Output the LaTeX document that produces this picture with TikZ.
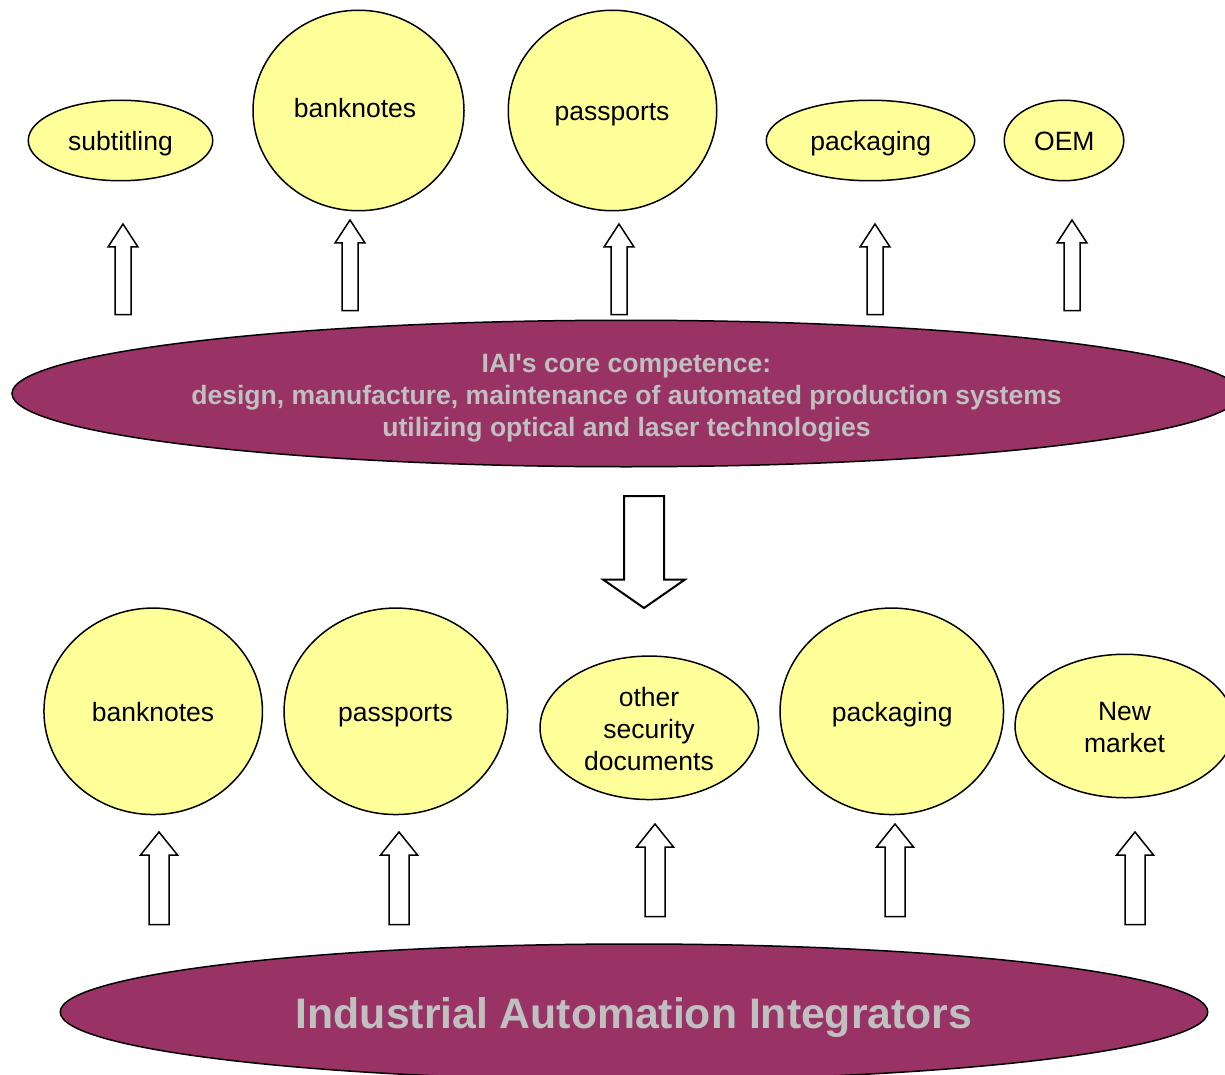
\documentclass[tikz,border=0pt]{standalone}
\usepackage{fontspec}
\setmainfont{Liberation Sans}[Ligatures=TeXOff]
\usetikzlibrary{shapes.geometric}
\definecolor{paleyellow}{HTML}{FFFF99}
\definecolor{plum}{HTML}{993366}
\definecolor{palegrey}{HTML}{C0C0C0}
\tikzset{
  blob/.style={ellipse,draw=black,line width=1.5pt,fill=paleyellow,inner sep=0pt},
  core/.style={ellipse,draw=black,line width=1.5pt,fill=plum,inner sep=0pt},
  word/.style={font=\fontsize{26.5}{32}\selectfont,text=black,align=center,inner sep=0pt},
  coreword/.style={font=\fontsize{26.55}{32}\selectfont\bfseries,text=palegrey,align=center,inner sep=0pt},
  bigword/.style={font=\fontsize{42.7}{50}\selectfont\bfseries,text=palegrey,inner sep=0pt},
  hollow/.style={draw=black,line width=1.5pt,fill=white,line join=miter},
}
% cx, tip y, head base y, bottom y, head half width, shaft half width
\newcommand{\uparr}[6]{\draw[hollow] (#1,#2) -- (#1+#5,#3) -- (#1+#6,#3) -- (#1+#6,#4) -- (#1-#6,#4) -- (#1-#6,#3) -- (#1-#5,#3) -- cycle;}
\begin{document}
\begin{tikzpicture}[x=1pt,y=-1pt]
\useasboundingbox (0,0) rectangle (1225,1075);
% top row
\node[blob,minimum width=184.5pt,minimum height=80.5pt] (a1) at (120.5,140.5) {};
\node[blob,minimum width=211pt,minimum height=200.5pt] (a2) at (358.5,110.5) {};
\node[blob,minimum width=208.5pt,minimum height=200.5pt] (a3) at (612.5,110.5) {};
\node[blob,minimum width=208.5pt,minimum height=80.5pt] (a4) at (870.5,140.5) {};
\node[blob,minimum width=119.5pt,minimum height=80.5pt] (a5) at (1064,140.5) {};
\node[word] (ta1) at (120.5,144) {subtitling};
\node[word] (ta2) at (355,108) {banknotes};
\node[word] (ta3) at (612,115) {passports};
\node[word] (ta4) at (870.8,144) {packaging};
\node[word] (ta5) at (1064.3,141) {OEM};
% arrows
\uparr{123}{224}{247}{314.5}{15}{8}
\uparr{350}{220}{243}{310.5}{15}{8}
\uparr{619}{224}{247}{314.5}{15}{8}
\uparr{875}{224}{247}{314.5}{15}{8}
\uparr{1072}{220}{243}{310.5}{15}{8}
% core
\node[core,minimum width=1228pt,minimum height=146.5pt] (core) at (626,393.5) {};
\node[coreword] (tcore) at (626.5,398) {IAI's core competence:\\design, manufacture, maintenance of automated production systems\\utilizing optical and laser technologies};
% down arrow
\draw[hollow,line width=2pt] (644,608) -- (603,579.5) -- (624,579.5) -- (624,496) -- (664,496) -- (664,579.5) -- (685,579.5) -- cycle;
% lower row
\node[blob,minimum width=218.5pt,minimum height=206.5pt] (b1) at (153.2,711.3) {};
\node[blob,minimum width=223.5pt,minimum height=206.5pt] (b2) at (395.8,711.3) {};
\node[blob,minimum width=218.5pt,minimum height=143.5pt] (b3) at (649.3,727.8) {};
\node[blob,minimum width=223.5pt,minimum height=206.5pt] (b4) at (891.8,711.3) {};
\node[blob,minimum width=219.5pt,minimum height=143.5pt] (b5) at (1124.8,726) {};
\node[word] (tb1) at (153,712) {banknotes};
\node[word] (tb2) at (395.5,716) {passports};
\node[word] (tb3) at (649,729) {other\\security\\documents};
\node[word] (tb4) at (892.2,715) {packaging};
\node[word] (tb5) at (1124.5,728) {New\\market};
\uparr{159}{832}{855}{924.5}{18.5}{10}
\uparr{399}{832}{855}{924.5}{18.5}{10}
\uparr{655}{824}{847}{916.5}{18.5}{10}
\uparr{895}{824}{847}{916.5}{18.5}{10}
\uparr{1135}{832}{855}{924.5}{18.5}{10}
% bottom
\node[core,minimum width=1147.5pt,minimum height=136pt] (base) at (634,1012) {};
\node[bigword] (tbase) at (634,1018) {Industrial Automation Integrators};
\end{tikzpicture}
\end{document}
